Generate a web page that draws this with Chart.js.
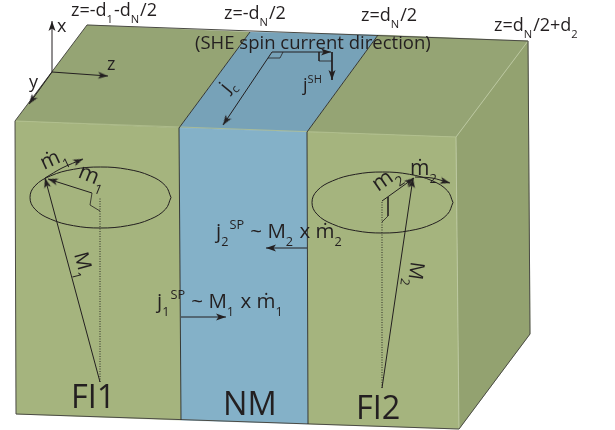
<!DOCTYPE html>
<html>
<head>
<meta charset="utf-8">
<title>FI/NM/FI</title>
<script src="https://cdn.jsdelivr.net/npm/chart.js@4"></script>
<style>
  body { margin: 0; background: #fff; }
  canvas { display: block; }
</style>
</head>
<body>
<canvas id="myChart" width="615" height="430"></canvas>
<script>
// block faces
const topLeft = [[87,25],[250,32],[179,128],[15,121]];
const topMid = [[250,32],[378,35],[307,132],[179,128]];
const topRight = [[378,35],[528,41],[456,137],[307,132]];
const frontLeft = [[15,121],[179,128],[181,420],[16,414]];
const frontMid = [[179,128],[307,132],[308,424],[181,420]];
const frontRight = [[307,132],[456,137],[459,429],[308,424]];
const sideFace = [[456,137],[528,41],[530,334],[459,429]];

// edges
const outline = [[87,25],[528,41],[530,334],[459,429],[16,414],[15,121],[87,25]];
const edgeA = [[250,32],[179,128],[181,420]];
const edgeB = [[378,35],[307,132],[308,424]];
const lightEdge = [[528,41],[456,137],[459,429]];
const frontTop = [[15,121],[456,137]];

// cones
const ring1X = [171,165.5,150.5,127.5,100.5,73.5,50.5,35,30,35,50.5,73.5,100.5,127.5,150.5,165.5,171];
const ring1Y = [197.5,209.2,219.1,225.7,228,225.7,219.1,209.2,197.5,185.8,175.9,169.3,167,169.3,175.9,185.8,197.5];
const ring2X = [453,447.5,432.5,409.5,382.5,355.5,332.5,317,312,317,332.5,355.5,382.5,409.5,432.5,447.5,453];
const ring2Y = [202.5,214.2,224.1,230.7,233,230.7,224.1,214.2,202.5,190.8,180.9,174.3,172,174.3,180.9,190.8,202.5];

// thin lines without head
const corner1 = [[92,193],[90,205],[100,211]];
const corner2 = [[388,197],[388,216],[382,222]];
const cornerJc = [[283,52],[280,58],[268,58]];
const cornerSh = [[319,52],[319,61],[332,61]];
const dotted1 = [[100,382],[100,197]];
const dotted2 = [[382,388],[382,201]];

// arrows, tail to tip
const axisX = [[52,72],[52,21]];
const axisY = [[52,72],[29,104]];
const axisZ = [[52,72],[108,76]];
const arrowJc = [[272,52],[223,125]];
const arrowShe = [[272,52],[331,52]];
const arrowSh = [[332,52],[332,80]];
const arrowBig1 = [[100,382],[45,178]];
const arrowBig2 = [[382,388],[413,178]];
const arrowSmall1 = [[92,193],[48,179]];
const arrowSmall2 = [[382,201],[414,178]];
const arrowDot1 = [[45,178],[62,168],[83,159]];
const arrowDot2 = [[415,177],[432,178],[450,183]];
const arrowPump1 = [[181,317],[226,317]];
const arrowPump2 = [[307,248],[266,248]];

// labels, "_" runs are subscripts and "^" runs superscripts
const labelTexts = [
  [["z=-d"],["1","_"],["-d"],["N","_"],["/2"]],
  [["z=-d"],["N","_"],["/2"]],
  [["z=d"],["N","_"],["/2"]],
  [["z=d"],["N","_"],["/2+d"],["2","_"]],
  [["(SHE spin current direction)"]],
  [["x"]], [["y"]], [["z"]],
  [["j"],["c","_"]],
  [["j"],["SH","^"]],
  [["ṁ"],["1","_"]],
  [["m"],["1","_"]],
  [["M"],["1","_"]],
  [["m"],["2","_"]],
  [["ṁ"],["2","_"]],
  [["M"],["2","_"]],
  [["j"],["2","_"],["SP","^"],[" ~ M"],["2","_"],[" x ṁ"],["2","_"]],
  [["j"],["1","_"],["SP","^"],[" ~ M"],["1","_"],[" x ṁ"],["1","_"]],
  [["FI1"]], [["NM"]], [["FI2"]]
];
const labelX = [71,224,361,494,195,57,29,107,228,303,44,77,74,378,410,411,216,157,71,223,356];
const labelY = [16,19,21,31,49,32,88,70,93,91,170,177,254,192,175,261,238,308,408,415,419];
const labelSize = [18,18,18,18,18.5,18,18,18,19,18,21,22,20,22,21,20,20.5,20.5,32.5,32.5,32.5];
const labelAngle = [0,0,0,0,0,0,0,0,-50,0,-25,22,75,-35,0,98,0,0,0,0,0];

const ink = "#231f20";

function toPoints(pairs) {
  return pairs.map(p => ({ x: p[0], y: p[1] }));
}

function zipPoints(xs, ys) {
  return xs.map((x, i) => ({ x: x, y: ys[i] }));
}

function face(pairs, color) {
  return { data: toPoints(pairs), showLine: true, fill: "shape", backgroundColor: color, borderColor: color, borderWidth: 0.5, pointRadius: 0 };
}

function line(points, color, width, dash) {
  return { data: points, showLine: true, fill: false, borderColor: color, borderWidth: width, borderDash: dash || [], pointRadius: 0 };
}

// head has its tip in the middle of the canvas so the point sits on the arrow end
const head = document.createElement("canvas");
head.width = 24;
head.height = 24;
const hctx = head.getContext("2d");
hctx.fillStyle = ink;
hctx.beginPath();
hctx.moveTo(12, 12);
hctx.lineTo(2, 8.5);
hctx.lineTo(4.5, 12);
hctx.lineTo(2, 15.5);
hctx.closePath();
hctx.fill();

function arrow(pairs, tension) {
  const n = pairs.length;
  const a = pairs[n - 2], b = pairs[n - 1];
  const d = line(toPoints(pairs), ink, 1);
  d.tension = tension || 0;
  d.pointRadius = pairs.map((p, i) => i === n - 1 ? 10 : 0);
  d.pointStyle = head;
  d.pointBorderWidth = 0;
  d.pointRotation = Math.atan2(b[1] - a[1], b[0] - a[0]) * 180 / Math.PI;
  return d;
}

const layers = [
  face(topLeft, "#95a474"),
  face(topMid, "#77a2b8"),
  face(topRight, "#95a474"),
  face(frontLeft, "#a5b47e"),
  face(frontMid, "#84b1c8"),
  face(frontRight, "#a5b47e"),
  face(sideFace, "#93a270"),
  line(toPoints(lightEdge), "#c3cea8", 0.8),
  line(toPoints(frontTop), "#b4c190", 0.8),
  line(toPoints(outline), "#4a4a44", 1),
  line(toPoints(edgeA), "#2a2a28", 0.9),
  line(toPoints(edgeB), "#2a2a28", 0.9),
  Object.assign(line(zipPoints(ring1X, ring1Y), ink, 1), { tension: 0.4 }),
  Object.assign(line(zipPoints(ring2X, ring2Y), ink, 1), { tension: 0.4 }),
  line(toPoints(corner1), ink, 0.8),
  line(toPoints(corner2), ink, 0.8),
  line(toPoints(cornerJc), ink, 0.8),
  line(toPoints(cornerSh), ink, 0.8),
  line(toPoints(dotted1), ink, 0.9, [1, 1.5]),
  line(toPoints(dotted2), ink, 0.9, [1, 1.5]),
  arrow(axisX), arrow(axisY), arrow(axisZ),
  arrow(arrowJc), arrow(arrowShe), arrow(arrowSh),
  arrow(arrowBig1), arrow(arrowBig2),
  arrow(arrowSmall1), arrow(arrowSmall2),
  arrow(arrowDot1, 0.3), arrow(arrowDot2, 0.3),
  arrow(arrowPump1), arrow(arrowPump2)
];

// the library paints the first dataset last, so turn the paint order around
layers.reverse();

const labelPlugin = {
  id: "labels",
  afterDatasetsDraw(chart) {
    const ctx = chart.ctx;
    const xs = chart.scales.x;
    const ys = chart.scales.y;
    ctx.save();
    ctx.fillStyle = ink;
    ctx.textBaseline = "alphabetic";
    labelTexts.forEach((runs, i) => {
      const size = labelSize[i];
      ctx.save();
      ctx.translate(xs.getPixelForValue(labelX[i]), ys.getPixelForValue(labelY[i]));
      ctx.rotate(labelAngle[i] * Math.PI / 180);
      let pen = 0;
      runs.forEach(run => {
        const kind = run[1];
        const small = kind === "_" || kind === "^";
        ctx.font = (small ? size * 0.62 : size) + 'px "Open Sans"';
        const dy = kind === "_" ? size * 0.37 : kind === "^" ? -size * 0.45 : 0;
        ctx.fillText(run[0], pen, dy);
        pen += ctx.measureText(run[0]).width + (small ? 1 : 0);
      });
      ctx.restore();
    });
    ctx.restore();
  }
};

new Chart(document.getElementById("myChart"), {
  type: "scatter",
  data: { datasets: layers },
  plugins: [labelPlugin],
  options: {
    responsive: false,
    animation: false,
    layout: { padding: 0, autoPadding: false },
    plugins: { legend: { display: false }, tooltip: { enabled: false } },
    scales: {
      x: { type: "linear", min: 0, max: 615, display: false },
      y: { type: "linear", min: 0, max: 430, reverse: true, display: false }
    }
  }
});
</script>
</body>
</html>
